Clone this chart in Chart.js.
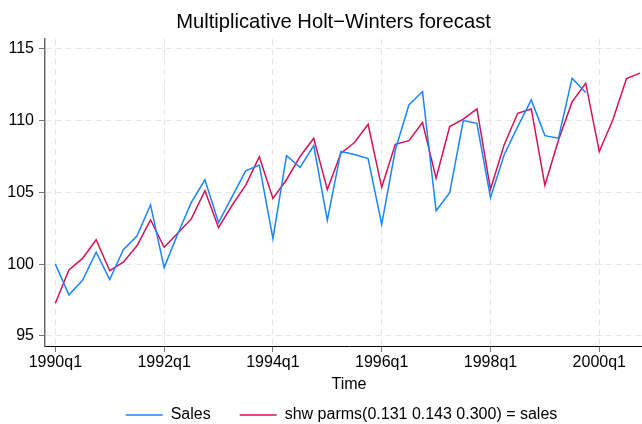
<!DOCTYPE html>
<html><head><meta charset="utf-8">
<script src="https://cdn.jsdelivr.net/npm/chart.js@4"></script>
<style>html,body{margin:0;padding:0;overflow:hidden;background:#fff}#wrap{width:683px;height:433px}</style>
</head><body><div id="wrap"><canvas id="c" width="683" height="433"></canvas></div>
<script>
// ---- data ----
const quarters = [];
for (let yr = 1990; yr <= 2000; yr++) for (let q = 1; q <= 4; q++) quarters.push(yr + 'q' + q);

const sales = [100.0, 97.86, 98.87, 100.84, 98.93, 101.0, 101.95, 104.13,
  99.76, 102.1, 104.3, 105.87, 102.9, 104.7, 106.5, 106.9,
  101.78, 107.55, 106.74, 108.26, 103.06, 107.85, 107.64, 107.35,
  102.77, 107.95, 111.09, 112.02, 103.72, 104.98, 110.0, 109.81,
  104.63, 107.6, 109.58, 111.44, 108.95, 108.77, 112.95, 111.95];

const forecast = [97.28, 99.6, 100.4, 101.7, 99.54, 100.14, 101.28, 103.09,
  101.18, 102.15, 103.15, 105.12, 102.55, 104.1, 105.5, 107.48,
  104.58, 105.88, 107.5, 108.77, 105.19, 107.73, 108.47, 109.74,
  105.35, 108.35, 108.6, 109.86, 105.98, 109.58, 110.1, 110.81,
  105.21, 108.3, 110.51, 110.81, 105.49, 108.65, 111.3, 112.6,
  107.84, 110.05, 112.93, 113.3];

const xTickLabels = ['1990q1', '1992q1', '1994q1', '1996q1', '1998q1', '2000q1'];
const yTickValues = [95, 100, 105, 110, 115];
const seriesNames = ['Sales', 'shw parms(0.131 0.143 0.300) = sales'];
const titleText = 'Multiplicative Holt\u2212Winters forecast';
const xTitle = 'Time';

// ---- chart ----
const FONT = "'Liberation Sans', Arial, Helvetica, sans-serif";
Chart.defaults.font.family = FONT;
Chart.defaults.font.size = 16;
Chart.defaults.color = '#000';

const titlePlugin = {
  id: 'stataTitle',
  afterDraw(chart) {
    const ctx = chart.ctx;
    ctx.save();
    ctx.font = '20.2px ' + FONT;
    ctx.fillStyle = '#000';
    ctx.textAlign = 'center';
    ctx.textBaseline = 'middle';
    ctx.fillText(titleText, 333.5, 22);
    ctx.restore();
  }
};

const toXY = arr => arr.map((v, i) => ({x: i, y: v}));

new Chart(document.getElementById('c'), {
  type: 'line',
  data: {
    datasets: [
      {label: seriesNames[0], data: toXY(sales), borderColor: '#1a85ff', backgroundColor: '#1a85ff',
       borderWidth: 1.5, pointRadius: 0, tension: 0, fill: false},
      {label: seriesNames[1], data: toXY(forecast), borderColor: '#d41159', backgroundColor: '#d41159',
       borderWidth: 1.5, pointRadius: 0, tension: 0, fill: false}
    ]
  },
  plugins: [titlePlugin],
  options: {
    responsive: false,
    animation: false,
    devicePixelRatio: 1,
    layout: {padding: {top: 39, left: 0, right: 0, bottom: 0}},
    plugins: {
      title: {display: false},
      tooltip: {enabled: false},
      legend: {
        position: 'bottom',
        labels: {usePointStyle: true, pointStyle: 'line', pointStyleWidth: 37, padding: 29,
                 color: '#000', font: {size: 16}}
      }
    },
    scales: {
      x: {
        type: 'linear',
        min: -0.76, max: 43.95,
        afterBuildTicks: s => { s.ticks = xTickLabels.map(l => ({value: quarters.indexOf(l)})); },
        afterFit: s => { s.height = 32; },
        ticks: {padding: 1, maxRotation: 0, autoSkip: false,
                callback: v => quarters[v], color: '#000', font: {size: 16}},
        grid: {color: '#e6e6e6', lineWidth: 1, tickLength: 6, tickColor: '#777', tickWidth: 1},
        border: {display: true, color: '#000', width: 1, dash: [6, 4]},
        title: {display: true, text: xTitle, color: '#000', font: {size: 16},
                padding: {top: 0, bottom: -16.4}}
      },
      y: {
        type: 'linear',
        position: 'left',
        min: 94.3, max: 115.68,
        afterBuildTicks: s => { s.ticks = yTickValues.map(v => ({value: v})); },
        afterFit: s => { s.width = 45; },
        ticks: {padding: 5, color: '#000', font: {size: 16}},
        grid: {color: '#e6e6e6', lineWidth: 1, tickLength: 6, tickColor: '#777', tickWidth: 1},
        border: {display: true, color: '#6a6a6a', width: 1.5, dash: [6, 4]}
      },
      yr: {
        type: 'linear',
        position: 'right',
        display: true,
        afterFit: s => { s.width = 30; },
        ticks: {display: false},
        grid: {display: false, drawTicks: false},
        border: {display: false}
      }
    }
  }
});
</script>
</body></html>
